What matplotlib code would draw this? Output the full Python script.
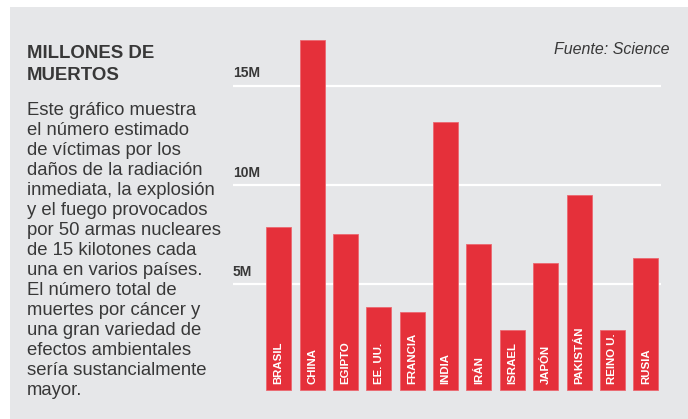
import matplotlib
matplotlib.use("Agg")
import matplotlib.pyplot as plt
from matplotlib.patches import Rectangle

# ---- data ----
countries = ["BRASIL", "CHINA", "EGIPTO", "EE. UU.", "FRANCIA", "INDIA", "IRÁN",
             "ISRAEL", "JAPÓN", "PAKISTÁN", "REINO U.", "RUSIA"]
deaths_millions = [7.9, 17.3, 7.55, 3.85, 3.6, 13.15, 7.05, 2.7, 6.05, 9.5, 2.7, 6.3]
grid_values = [5, 10, 15]
grid_labels = ["5M", "10M", "15M"]

title_lines = ["MILLONES DE", "MUERTOS"]
body_lines = [
    "Este gráfico muestra",
    "el número estimado",
    "de víctimas por los",
    "daños de la radiación",
    "inmediata, la explosión",
    "y el fuego provocados",
    "por 50 armas nucleares",
    "de 15 kilotones cada",
    "una en varios países.",
    "El número total de",
    "muertes por cáncer y",
    "una gran variedad de",
    "efectos ambientales",
    "sería sustancialmente",
    "mayor.",
]
source = "Fuente: Science"

# ---- style ----
W, H = 688, 419
BG = "#e6e7e9"
RED = "#e5303a"
TXT = "#383838"
FONT = "Liberation Sans"
plt.rcParams["font.family"] = [FONT, "DejaVu Sans"]

fig = plt.figure(figsize=(W / 100, H / 100), dpi=100)
fig.patch.set_facecolor("white")

def fx(px):
    return px / W

def fy(py):
    return 1 - py / H

# gray panel
fig.patches.append(Rectangle((fx(10), 0), 1 - fx(10), fy(7), transform=fig.transFigure,
                             facecolor=BG, edgecolor="none", zorder=-5))

# axes geometry (pixels)
ax_l, ax_r = 233, 661
ax_t, ax_b = 30, 405
ax = fig.add_axes([fx(ax_l), fy(ax_b), fx(ax_r - ax_l), (ax_b - ax_t) / H])
ax.set_facecolor("none")
ax.set_zorder(2)

step = 33.37
x0 = -(278.7 - ax_l) / step
ax.set_xlim(x0, x0 + (ax_r - ax_l) / step)
ppm = 19.87
zero_px = 383.6
ax.set_ylim(-(ax_b - zero_px) / ppm, (zero_px - ax_t) / ppm)
for s in ax.spines.values():
    s.set_visible(False)
ax.set_xticks([])
ax.set_yticks([])

# gridlines + labels
for v, lab in zip(grid_values, grid_labels):
    ax.axhline(v, color="white", lw=1.6, zorder=1)
    ax.annotate(lab, xy=(0, v), xycoords=("axes fraction", "data"),
                xytext=(0, 6.0), textcoords="offset points",
                ha="left", va="baseline", fontsize=10, fontweight="bold",
                color=TXT)

BASE = -0.32
xs = list(range(len(countries)))
ax.bar(xs, [v - BASE for v in deaths_millions], bottom=BASE, width=0.75,
       color=RED, edgecolor="#ec6870", linewidth=0.6, zorder=2)

for x, name in zip(xs, countries):
    ax.text(x, 0, name, rotation=90, ha="center", va="bottom",
            fontsize=8.2, fontweight="bold", color="white", zorder=3)

# titles and body text
for i, line in enumerate(title_lines):
    fig.text(fx(27), fy(58 + 22 * i), line, ha="left", va="baseline",
             fontsize=13.4, fontweight="bold", color=TXT)

for i, line in enumerate(body_lines):
    fig.text(fx(27), fy(115 + 20 * i), line, ha="left", va="baseline",
             fontsize=13.3, color=TXT)

fig.text(fx(669), fy(54), source, ha="right", va="baseline",
         fontsize=11.5, style="italic", color=TXT)

fig.savefig("out.png", dpi=100, facecolor=fig.get_facecolor())
